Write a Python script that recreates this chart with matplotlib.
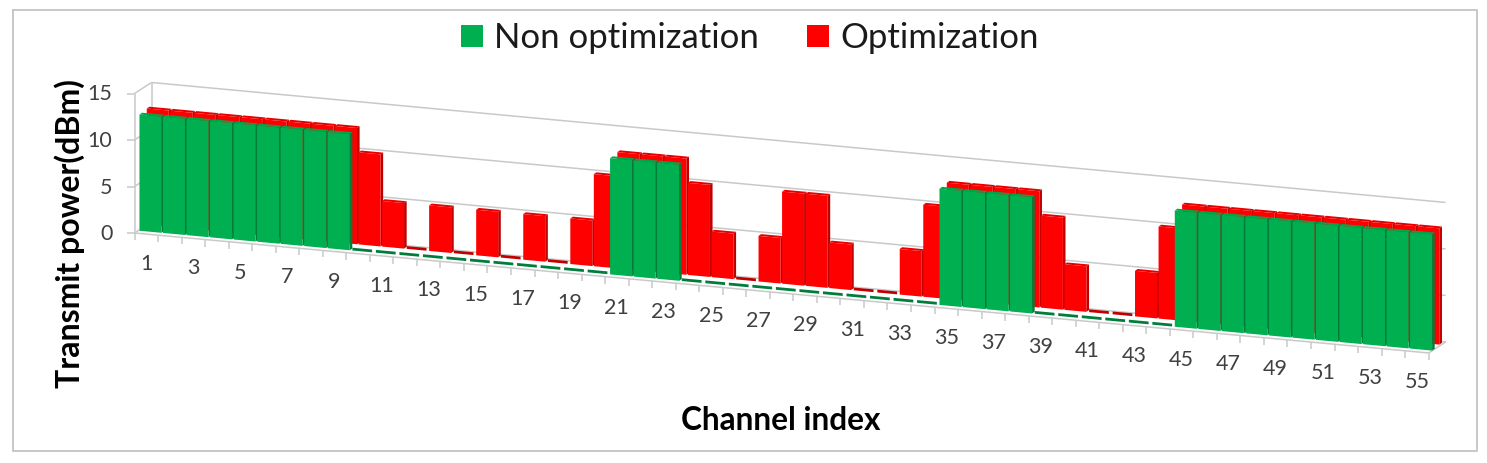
import matplotlib
matplotlib.use("Agg")
import matplotlib.pyplot as plt
from matplotlib.transforms import Affine2D

# ---- data -------------------------------------------------------------
channels = list(range(1, 56))
non_optimization = [12.5]*9 + [0.3]*11 + [12.5]*3 + [0.3]*11 + [12.5]*4 + [0.3]*6 + [12.5]*11
optimization = [12.5]*9 + [9.9, 4.9, 0.3, 4.9, 0.3, 4.9, 0.3, 4.9, 0.3, 4.9, 9.9] + [12.5]*3 + \
    [9.9, 4.9, 0.3, 4.9, 9.9, 9.9, 4.9, 0.3, 0.3, 4.9, 9.9] + [12.5]*4 + \
    [9.9, 4.9, 0.3, 0.3, 4.9, 9.9] + [12.5]*11
power_ticks = [0, 5, 10, 15]
channel_labels = channels[::2]
series_names = ["Non optimization", "Optimization"]

# ---- oblique projection (pixels) ---------------------------------------
W, H = 1487, 463
X0, Y0 = 134.5, 233.0
PX_CH, PX_UNIT = 23.53, 9.3
SLOPE = 0.0927
WALL = (17, -11)
GREEN_POS = (4.2, -2.3)
RED_POS = (11.5, -8.3)
BAR_DEPTH = (2.6, -1.8)
BAR_W = 0.935
FLAT_W = 0.84
GRID = "#c9c9c9"
TXT = "#404040"
FONT = "Lato"

fig = plt.figure(figsize=(W/100, H/100), dpi=100)
ax = fig.add_axes([0, 0, 1, 1])
ax.set_axis_off()


def proj(dx=0, dy=0):
    return Affine2D.from_values(PX_CH, SLOPE*PX_CH, 0, -PX_UNIT, X0+dx, Y0+dy)


def pt(x, y, dx=0, dy=0):
    return proj(dx, dy).transform((x, y))


def seg(p, q, **kw):
    kw.setdefault("color", GRID)
    kw.setdefault("lw", 1.1)
    ax.plot([p[0], q[0]], [p[1], q[1]], solid_capstyle="butt", **kw)


n = len(channels)
# walls and gridlines
for v in power_ticks:
    a, b = pt(0, v), pt(0, v, *WALL)
    seg(a, b)
    seg(b, (pt(n, 0, *WALL)[0], pt(n, 0, *WALL)[1] - v*PX_UNIT))
    seg((a[0]-8, a[1]), a)
    ax.text(a[0]-22, a[1]+1, str(v), ha="right", va="center", fontsize=15.5, family=FONT, color=TXT)
seg(pt(0, 0), pt(0, 15))
seg(pt(0, 0, *WALL), pt(0, 15, *WALL))
seg(pt(n, 0), pt(n, 0, *WALL))
seg(pt(0, 0), pt(n, 0))
for i in range(n + 1):
    p = pt(i, 0)
    seg(p, (p[0], p[1]+7))
for c in channel_labels:
    p = pt(c - 0.5, 0)
    ax.text(p[0], p[1]+30, str(c), ha="center", va="center", fontsize=15.5, family=FONT, color=TXT)


def draw_series(values, pos, front, side, top, z, name):
    dx, dy = pos
    ddx, ddy = BAR_DEPTH
    for c, v in zip(channels, values):
        if v < 1:          # flat bars read as a plain dark dash
            continue
        left, right = c - 0.5 - BAR_W/2, c - 0.5 + BAR_W/2
        a, b = pt(right, 0, dx, dy), pt(right, v, dx, dy)
        ax.fill([a[0], a[0]+ddx, b[0]+ddx, b[0]], [a[1], a[1]+ddy, b[1]+ddy, b[1]],
                color=side, lw=0, zorder=z)
        l = pt(left, v, dx, dy)
        ax.fill([l[0], l[0]+ddx, b[0]+ddx, b[0]], [l[1], l[1]+ddy, b[1]+ddy, b[1]],
                color=top, lw=0, zorder=z+1)
    widths = [BAR_W if v >= 1 else FLAT_W for v in values]
    colors = [front if v >= 1 else side for v in values]
    bars = ax.bar([c - 0.5 for c in channels], values, width=widths, color=colors, lw=0,
                  zorder=z+2, label=name)
    for patch in bars:
        patch.set_transform(proj(dx, dy) + ax.transData)
    return bars


red = draw_series(optimization, RED_POS, "#ff0000", "#c00000", "#e80000", 3, series_names[1])
green = draw_series(non_optimization, GREEN_POS, "#00b050", "#007d3a", "#00a54a", 7, series_names[0])

# frame
ax.plot([13, 1477, 1477, 13, 13], [10, 10, 451, 451, 10], color="#c4c4c4", lw=1.3)

ax.text(70, 234, "Transmit power(dBm)", rotation=90, ha="center", va="center",
        fontsize=23, fontweight="bold", family=FONT, color="black")
ax.text(781, 421, "Channel index", ha="center", va="center",
        fontsize=22.7, fontweight="bold", family=FONT, color="black")

ax.set_xlim(0, W)
ax.set_ylim(H, 0)
leg_handles = [plt.Rectangle((0, 0), 1, 1, color="#00b050", lw=0),
               plt.Rectangle((0, 0), 1, 1, color="#ff0000", lw=0)]
leg = ax.legend(handles=leg_handles, labels=series_names, ncol=2, frameon=False,
                loc="center", bbox_to_anchor=(750, 38), bbox_transform=ax.transData,
                prop={"family": FONT, "size": 25}, handlelength=0.62, handleheight=0.62,
                handletextpad=0.33, columnspacing=1.38)
for t in leg.get_texts():
    t.set_color("#1a1a1a")

fig.savefig("out.png", dpi=100)
